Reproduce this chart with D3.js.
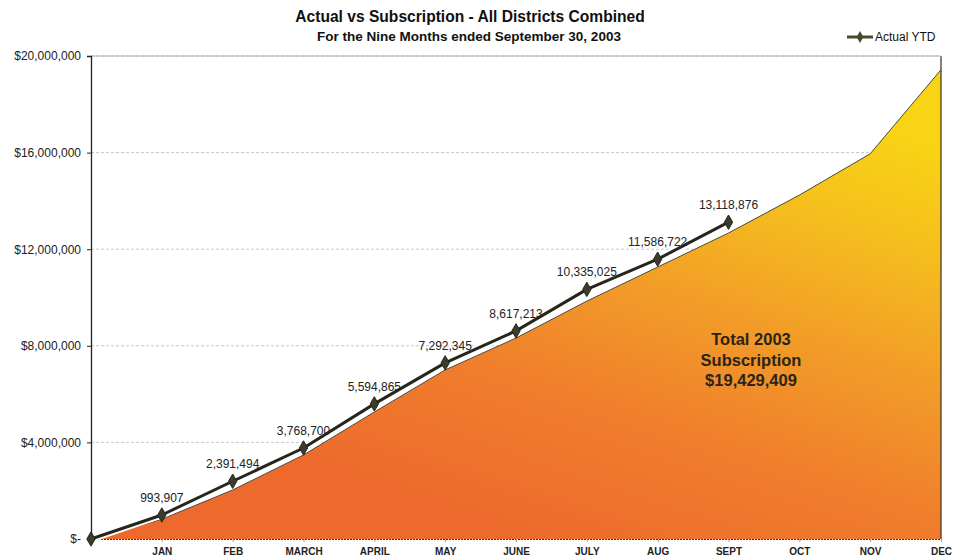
<!DOCTYPE html>
<html><head><meta charset="utf-8">
<script src="https://cdn.jsdelivr.net/npm/d3@7"></script>
<style>body{margin:0;background:#fff}svg{display:block}</style>
</head><body><svg id="c" width="959" height="560"></svg>
<script>
const categories = ["", "JAN", "FEB", "MARCH", "APRIL", "MAY", "JUNE", "JULY", "AUG", "SEPT", "OCT", "NOV", "DEC"];
const subscription = [0, 820000, 2030000, 3480000, 5260000, 7000000, 8320000, 9850000, 11260000, 12670000, 14240000, 15950000, 19429409];
const actualYTD = [0, 993907, 2391494, 3768700, 5594865, 7292345, 8617213, 10335025, 11586722, 13118876];
const yTicks = [0, 4000000, 8000000, 12000000, 16000000, 20000000];

const svg = d3.select("#c");
const m = {l: 91, r: 941, t: 56, b: 539};
const x = d3.scalePoint().domain(categories.map((d,i)=>i)).range([m.l, m.r]).padding(0);
const y = d3.scaleLinear().domain([0, 20000000]).range([m.b, m.t]);
const font = "Liberation Sans, Arial, sans-serif";
const narrow = "Liberation Sans Narrow, Arial Narrow, Liberation Sans, sans-serif";

const defs = svg.append("defs");
const g = defs.append("linearGradient").attr("id","ag").attr("gradientUnits","userSpaceOnUse")
  .attr("x1", 520).attr("y1", m.b).attr("x2", 680).attr("y2", 60);
g.append("stop").attr("offset","0").attr("stop-color","#ed6a2c");
g.append("stop").attr("offset","0.3").attr("stop-color","#f07e2c");
g.append("stop").attr("offset","0.55").attr("stop-color","#f29c28");
g.append("stop").attr("offset","0.78").attr("stop-color","#f5bc1e");
g.append("stop").attr("offset","1").attr("stop-color","#f8d414");

// gridlines
svg.append("g").selectAll("line").data(yTicks.filter(d=>d>0)).join("line")
  .attr("x1", m.l).attr("x2", m.r).attr("y1", d=>y(d)).attr("y2", d=>y(d))
  .attr("stroke", "#c8c8c8").attr("stroke-width", 1).attr("stroke-dasharray", "3,2");

// area
const area = d3.area().x((d,i)=>x(i)).y0(y(0)).y1(d=>y(d));
svg.append("path").datum(subscription).attr("d", area).attr("fill","url(#ag)");
svg.append("path").datum(subscription).attr("d", d3.line().x((d,i)=>x(i)).y(d=>y(d)))
  .attr("fill","none").attr("stroke","#4a4a40").attr("stroke-width",1);

// frame right / top
svg.append("line").attr("x1", m.r).attr("x2", m.r).attr("y1", m.t).attr("y2", m.b).attr("stroke","#3a3020").attr("stroke-width",1.2);
svg.append("line").attr("x1", m.l).attr("x2", m.r).attr("y1", m.t).attr("y2", m.t).attr("stroke","#b0b0a8").attr("stroke-width",1);

// axes
const yAxis = d3.axisLeft(y).tickValues(yTicks).tickSize(4)
  .tickFormat(d => d === 0 ? "$-" : "$" + d3.format(",")(d));
const ya = svg.append("g").attr("transform", `translate(${m.l},0)`).call(yAxis);
ya.select(".domain").attr("stroke","#222").attr("stroke-width",1.3);
ya.selectAll(".tick line").attr("stroke","#222");
ya.selectAll("text").attr("font-family", font).attr("font-size", 12).attr("fill","#222").attr("dx", -3);

const xAxis = d3.axisBottom(x).tickSize(3).tickFormat(i => categories[i]);
const xa = svg.append("g").attr("transform", `translate(0,${m.b})`).call(xAxis);
xa.select(".domain").attr("stroke","#333").attr("stroke-width",1).attr("stroke-dasharray","2,1");
xa.selectAll(".tick line").attr("stroke","#999");
xa.selectAll("text").attr("font-family", font).attr("font-size", 10).attr("font-weight","bold").attr("fill","#222").attr("dy", 10);

// actual line
const line = d3.line().x((d,i)=>x(i)).y(d=>y(d));
svg.append("path").datum(actualYTD).attr("d", line).attr("fill","none").attr("stroke","#fff").attr("stroke-width",7).attr("stroke-linejoin","round");
svg.append("path").datum(actualYTD).attr("d", line).attr("fill","none").attr("stroke","#26261c").attr("stroke-width",3).attr("stroke-linejoin","round");
const diamond = d3.symbol().type(d3.symbolDiamond).size(60);
svg.append("g").selectAll("path").data(actualYTD).join("path")
  .attr("d", diamond).attr("transform", (d,i)=>`translate(${x(i)},${y(d)})`)
  .attr("fill","#3c3c2c").attr("stroke","#26261c").attr("stroke-width",1);

// data labels
svg.append("g").selectAll("text").data(actualYTD.slice(1)).join("text")
  .attr("x", (d,i)=>x(i+1)).attr("y", d=>y(d)-13)
  .attr("text-anchor","middle").attr("font-family", font).attr("font-size", 12).attr("fill","#222")
  .text(d=>d3.format(",")(d));

// annotation
const ann = ["Total 2003", "Subscription", "$19,429,409"];
svg.append("g").selectAll("text").data(ann).join("text")
  .attr("x", 751).attr("y", (d,i)=>345 + i*20.5).attr("text-anchor","middle")
  .attr("font-family", font).attr("font-size", 16.5).attr("font-weight","bold").attr("fill","#2a2418").text(d=>d);

// titles
svg.append("text").attr("x", 470).attr("y", 22).attr("text-anchor","middle")
  .attr("font-family", narrow).attr("font-size", 15.6).attr("font-weight","bold").attr("fill","#111")
  .text("Actual vs Subscription - All Districts Combined");
svg.append("text").attr("x", 469).attr("y", 41).attr("text-anchor","middle")
  .attr("font-family", narrow).attr("font-size", 13.5).attr("font-weight","bold").attr("fill","#111")
  .text("For the Nine Months ended September 30, 2003");

// legend
svg.append("line").attr("x1", 847).attr("x2", 873).attr("y1", 37).attr("y2", 37).attr("stroke","#4a4a30").attr("stroke-width",3);
svg.append("path").attr("d", d3.symbol().type(d3.symbolDiamond).size(40)).attr("transform","translate(860,37)").attr("fill","#4a4a30");
svg.append("text").attr("x", 875).attr("y", 41).attr("font-family", narrow).attr("font-size", 12).attr("fill","#111").text("Actual YTD");
</script></body></html>
